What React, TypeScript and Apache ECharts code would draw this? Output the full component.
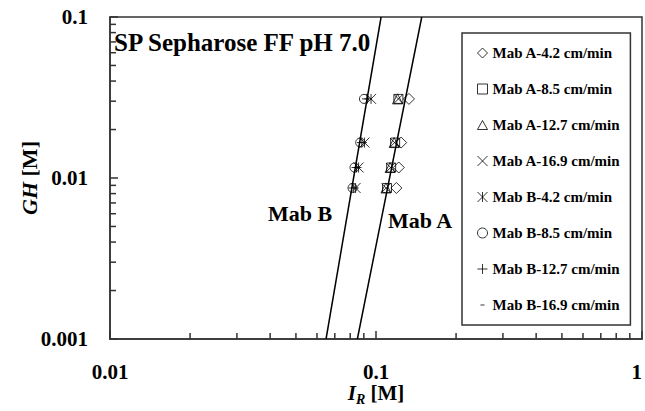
import { useEffect, useRef } from 'react';
import * as echarts from 'echarts';

const FONT = 'Liberation Serif';

// GH values (y) shared by every series
const gh = [0.031, 0.0166, 0.01162, 0.00867];

// I_R values (x) for each series
const irA42 = [0.133, 0.1243, 0.1218, 0.1193];
const irA85 = [0.1214, 0.118, 0.114, 0.11];
const irA127 = [0.1205, 0.117, 0.113, 0.109];
const irA169 = [0.1214, 0.1175, 0.1135, 0.1092];
const irB42 = [0.0958, 0.0905, 0.086, 0.0838];
const irB85 = [0.0901, 0.0872, 0.083, 0.0816];
const irB127 = [0.0925, 0.0885, 0.0845, 0.0825];
const irB169 = [0.092, 0.088, 0.0842, 0.0822];

// fitted lines (endpoints)
const lineA_IR = [0.0851, 0.1486];
const lineA_GH = [0.001, 0.1];
const lineB_IR = [0.0649, 0.1045];
const lineB_GH = [0.001, 0.1];

const seriesNames = [
  'Mab A-4.2 cm/min',
  'Mab A-8.5 cm/min',
  'Mab A-12.7 cm/min',
  'Mab A-16.9 cm/min',
  'Mab B-4.2 cm/min',
  'Mab B-8.5 cm/min',
  'Mab B-12.7 cm/min',
  'Mab B-16.9 cm/min',
];
const seriesX = [irA42, irA85, irA127, irA169, irB42, irB85, irB127, irB169];
const symbols = [
  'path://M5,0L10,5L5,10L0,5Z',
  'path://M0,0L10,0L10,10L0,10Z',
  'path://M5,0L10,9L0,9Z',
  'path://M0,0L10,10M10,0L0,10',
  'path://M0,0L10,10M10,0L0,10M5,0L5,10',
  'circle',
  'path://M5,0L5,10M0,5L10,5',
  'path://M0,0M3,5L7,5M10,10',
];
const symbolSizes = [11, 9, 10, 9, 10, 9, 10, 10];

const xTickLabels = ['0.01', '0.1', '1'];
const yTickLabels = ['0.001', '0.01', '0.1'];
const xMinorTicks = [0.02, 0.03, 0.04, 0.05, 0.06, 0.07, 0.08, 0.09, 0.2, 0.3, 0.4, 0.5, 0.6, 0.7, 0.8, 0.9];
const yMinorTicks = [0.002, 0.003, 0.004, 0.005, 0.006, 0.007, 0.008, 0.009, 0.02, 0.03, 0.04, 0.05, 0.06, 0.07, 0.08, 0.09];

const AXIS_COLOR = '#333';

export default function App() {
  const ref = useRef<HTMLDivElement>(null);
  useEffect(() => {
    const chart = echarts.init(ref.current!, null, { renderer: 'svg' });
    const scatterSeries = seriesNames.map((name, i) => ({
      name,
      type: 'scatter',
      data: seriesX[i].map((x, j) => [x, gh[j]]),
      symbol: symbols[i],
      symbolSize: symbolSizes[i],
      itemStyle: { color: 'rgba(0,0,0,0)', borderColor: '#000', borderWidth: 1 },
      z: 5,
    }));
    const texts: any[] = [
      {
        type: 'text',
        x: 114,
        y: 42,
        style: { text: 'SP Sepharose FF pH 7.0', font: `bold 25px ${FONT}`, fill: '#000', verticalAlign: 'middle' },
      },
      {
        type: 'text',
        x: 268,
        y: 213,
        style: { text: 'Mab B', font: `bold 22px ${FONT}`, fill: '#000', verticalAlign: 'middle' },
      },
      {
        type: 'text',
        x: 388,
        y: 220,
        style: { text: 'Mab A', font: `bold 22px ${FONT}`, fill: '#000', verticalAlign: 'middle' },
      },
    ];
    const option: any = {
      animation: false,
      grid: {
        left: 110,
        right: 3,
        top: 17,
        bottom: 72,
        outerBoundsMode: 'none',
        containLabel: false,
        show: true,
        borderColor: AXIS_COLOR,
        borderWidth: 1.5,
      },
      xAxis: {
        type: 'log',
        logBase: 10,
        min: 0.01,
        max: 1,
        axisLine: { show: true, lineStyle: { color: AXIS_COLOR, width: 1.5 } },
        axisTick: { show: true, inside: true, length: 8, lineStyle: { color: AXIS_COLOR, width: 1.5 } },
        splitLine: { show: false },
        axisLabel: {
          margin: 22,
          fontSize: 21,
          fontWeight: 'bold',
          fontFamily: FONT,
          color: '#000',
          alignMaxLabel: 'right',
          formatter: (v: number) => xTickLabels[Math.round(Math.log10(v)) + 2] ?? '',
        },
        name: '{i|I}{r|R}{m| [M]}',
        nameLocation: 'middle',
        nameGap: 43,
        nameMoveOverlap: false,
        nameTextStyle: {
          rich: {
            i: { fontSize: 21, fontWeight: 'bold', fontStyle: 'italic', fontFamily: FONT, color: '#000', lineHeight: 22 },
            r: { fontSize: 14, fontWeight: 'bold', fontStyle: 'italic', fontFamily: FONT, color: '#000', lineHeight: 14, padding: [12, 0, 0, 0] },
            m: { fontSize: 21, fontWeight: 'bold', fontFamily: FONT, color: '#000', lineHeight: 22 },
          },
        },
      },
      yAxis: {
        type: 'log',
        logBase: 10,
        min: 0.001,
        max: 0.1,
        axisLine: { show: true, lineStyle: { color: AXIS_COLOR, width: 1.5 } },
        axisTick: { show: true, inside: true, length: 8, lineStyle: { color: AXIS_COLOR, width: 1.5 } },
        splitLine: { show: false },
        axisLabel: {
          margin: 22,
          fontSize: 21,
          fontWeight: 'bold',
          fontFamily: FONT,
          color: '#000',
          formatter: (v: number) => yTickLabels[Math.round(Math.log10(v)) + 3] ?? '',
        },
        name: '{i|GH}{m| [M]}',
        nameLocation: 'middle',
        nameGap: 70,
        nameMoveOverlap: false,
        nameTextStyle: {
          rich: {
            i: { fontSize: 22, fontWeight: 'bold', fontStyle: 'italic', fontFamily: FONT, color: '#000' },
            m: { fontSize: 22, fontWeight: 'bold', fontFamily: FONT, color: '#000' },
          },
        },
      },
      legend: {
        data: seriesNames,
        orient: 'vertical',
        left: 462,
        top: 33,
        padding: [12, 10, 12, 15],
        itemGap: 20,
        itemWidth: 10,
        itemHeight: 10,
        borderColor: AXIS_COLOR,
        borderWidth: 1.5,
        selectedMode: false,
        itemStyle: { borderWidth: 1 },
        textStyle: { fontSize: 15, fontWeight: 'bold', fontFamily: FONT, color: '#000', lineHeight: 16 },
      },
      graphic: texts,
      series: [
        {
          name: 'lineA',
          type: 'line',
          data: lineA_IR.map((x, i) => [x, lineA_GH[i]]),
          symbol: 'none',
          lineStyle: { color: '#000', width: 1.5 },
          silent: true,
          z: 3,
        },
        {
          name: 'lineB',
          type: 'line',
          data: lineB_IR.map((x, i) => [x, lineB_GH[i]]),
          symbol: 'none',
          lineStyle: { color: '#000', width: 1.5 },
          silent: true,
          z: 3,
        },
        ...scatterSeries,
      ],
    };
    chart.setOption(option);

    // minor ticks at 2..9 of each decade, placed through the chart's own scales
    const ticks: any[] = [];
    xMinorTicks.forEach((v) => {
      const p = chart.convertToPixel({ gridIndex: 0 }, [v, 0.001]) as number[];
      ticks.push({
        type: 'line',
        z: 10,
        shape: { x1: p[0], y1: p[1], x2: p[0], y2: p[1] - 6 },
        style: { stroke: AXIS_COLOR, lineWidth: 1.5 },
      });
    });
    yMinorTicks.forEach((v) => {
      const p = chart.convertToPixel({ gridIndex: 0 }, [0.01, v]) as number[];
      ticks.push({
        type: 'line',
        z: 10,
        shape: { x1: p[0], y1: p[1], x2: p[0] + 6, y2: p[1] },
        style: { stroke: AXIS_COLOR, lineWidth: 1.5 },
      });
    });
    chart.setOption({ graphic: { elements: [...texts, ...ticks] } });
    return () => chart.dispose();
  }, []);
  return <div ref={ref} style={{ position: 'absolute', left: 0, top: 0, width: 645, height: 411 }} />;
}
